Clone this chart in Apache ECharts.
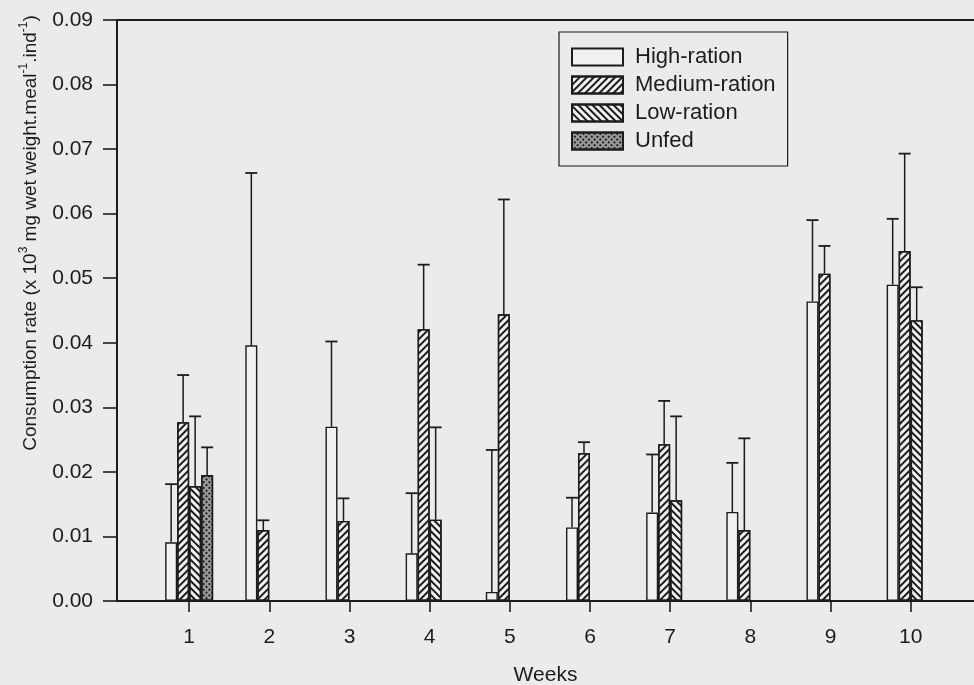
<!DOCTYPE html>
<html><head><meta charset="utf-8">
<script src="https://cdn.jsdelivr.net/npm/echarts@6/dist/echarts.min.js"></script>
<style>html,body{margin:0;padding:0;background:#ebebe9;}#c{width:974px;height:685px;}</style>
</head><body><div id="c"></div>
<script>
const weeks = [1,2,3,4,5,6,7,8,9,10];
const yTicks = ['0.00','0.01','0.02','0.03','0.04','0.05','0.06','0.07','0.08','0.09'];
const seriesNames = ['High-ration','Medium-ration','Low-ration','Unfed'];
const highMean = [0.0091,0.0396,0.0270,0.0074,0.0014,0.0114,0.0137,0.0138,0.0464,0.0490];
const highErr  = [0.0090,0.0267,0.0132,0.0093,0.0220,0.0046,0.0090,0.0076,0.0126,0.0102];
const medMean  = [0.0277,0.0110,0.0124,0.0421,0.0444,0.0229,0.0243,0.0110,0.0507,0.0542];
const medErr   = [0.0073,0.0015,0.0035,0.0100,0.0178,0.0017,0.0067,0.0142,0.0043,0.0151];
const lowWeeks = [1,4,7,10];
const lowMean  = [0.0178,0.0126,0.0156,0.0435];
const lowErr   = [0.0108,0.0143,0.0130,0.0051];
const unfedWeeks = [1];
const unfedMean  = [0.0195];
const unfedErr   = [0.0043];

const INK = '#1c1c1c';
const PAPER = '#ebebe9';
const FILL = '#f1f1ef';
const FONT = '"Liberation Sans", Arial, sans-serif';
const BW = 12;

const groups = [
  {name: seriesNames[0], x: weeks, m: highMean, e: highErr, off: -1.5*BW,
   style: {color: FILL}},
  {name: seriesNames[1], x: weeks, m: medMean, e: medErr, off: -0.5*BW,
   style: {color: FILL, decal: {symbol:'rect', symbolSize:1, dashArrayX:[1,0], dashArrayY:[1.4,2.6], rotation: -Math.PI/4, color: INK}}},
  {name: seriesNames[2], x: lowWeeks, m: lowMean, e: lowErr, off: 0.5*BW,
   style: {color: FILL, decal: {symbol:'rect', symbolSize:1, dashArrayX:[1,0], dashArrayY:[1.4,2.6], rotation: Math.PI/4, color: INK}}},
  {name: seriesNames[3], x: unfedWeeks, m: unfedMean, e: unfedErr, off: 1.5*BW,
   style: {color: '#9a9a98', decal: {symbol:'rect', symbolSize:1, dashArrayX:[2,1.2], dashArrayY:[2,1.2], rotation: Math.PI/4, color: '#222'}}}
];

const series = [];
groups.forEach(g => {
  series.push({
    name: g.name, type: 'bar', barWidth: BW, barGap: '0%',
    data: g.x.map((w,i)=>[w, g.m[i]]),
    itemStyle: Object.assign({borderColor: INK, borderWidth: 1.4}, g.style),
    emphasis: {disabled: true}, z: 3
  });
});
groups.forEach(g => {
  series.push({
    type: 'custom', silent: true, z: 4,
    data: g.x.map((w,i)=>[w, g.m[i], g.m[i]+g.e[i]]),
    renderItem: (params, api) => {
      const lo = api.coord([api.value(0), api.value(1)]);
      const hi = api.coord([api.value(0), api.value(2)]);
      const x = lo[0] + g.off;
      return {type:'group', children:[
        {type:'line', shape:{x1:x, y1:lo[1], x2:x, y2:hi[1]}, style:{stroke:INK, lineWidth:1.5}},
        {type:'line', shape:{x1:x-BW/2, y1:hi[1], x2:x+BW/2, y2:hi[1]}, style:{stroke:INK, lineWidth:1.8}}
      ]};
    }
  });
});

const chart = echarts.init(document.getElementById('c'));
chart.setOption({
  backgroundColor: PAPER,
  animation: false,
  textStyle: {fontFamily: FONT},
  grid: {left: 117, top: 20, right: 0, bottom: 84, containLabel: false, outerBoundsMode: 'none'},
  legend: {
    data: seriesNames, orient: 'vertical', left: 559, top: 32,
    padding: [14, 12, 14, 12], itemGap: 6, itemWidth: 51, itemHeight: 17,
    borderColor: INK, borderWidth: 1.2, icon: 'rect',
    textStyle: {fontFamily: FONT, fontSize: 22, color: INK, lineHeight: 18, padding:[0,0,0,7]},
    selectedMode: false
  },
  xAxis: [{
    type: 'value', min: 0.1, max: 10.79,
    name: 'Weeks', nameLocation: 'middle', nameGap: 64,
    nameTextStyle: {fontFamily: FONT, fontSize: 21, color: INK},
    axisLine: {show: true, lineStyle: {color: INK, width: 2}},
    axisTick: {show: true, customValues: weeks, length: 11, lineStyle: {color: INK, width: 1.6}},
    axisLabel: {customValues: weeks, margin: 26, fontFamily: FONT, fontSize: 21, color: INK},
    splitLine: {show: false}
  }, {
    type: 'value', min: 0.1, max: 10.79, position: 'top',
    axisLine: {show: true, lineStyle: {color: INK, width: 2}},
    axisTick: {show: false}, axisLabel: {show: false}, splitLine: {show: false}
  }],
  yAxis: {
    type: 'value', min: 0, max: 0.09, interval: 0.01,
    axisLine: {show: true, lineStyle: {color: INK, width: 2}},
    axisTick: {show: true, length: 14, lineStyle: {color: INK, width: 1.6}},
    axisLabel: {margin: 24, fontFamily: FONT, fontSize: 21, color: INK,
      formatter: (v) => yTicks[Math.round(v*100)]},
    splitLine: {show: false}
  },
  graphic: [{
    type: 'text', x: 29, y: 233, rotation: Math.PI/2,
    style: {
      text: '{n|Consumption rate (x 10}{s|3}{n| mg wet weight.meal}{s|-1}{n|.ind}{s|-1}{n|)}',
      align: 'center', verticalAlign: 'middle', fill: INK,
      rich: {
        n: {fontFamily: FONT, fontSize: 19, fill: INK, verticalAlign: 'bottom', lineHeight: 22},
        s: {fontFamily: FONT, fontSize: 12, fill: INK, verticalAlign: 'top', lineHeight: 22}
      }
    }
  }],
  series: series
});
</script>
</body></html>
